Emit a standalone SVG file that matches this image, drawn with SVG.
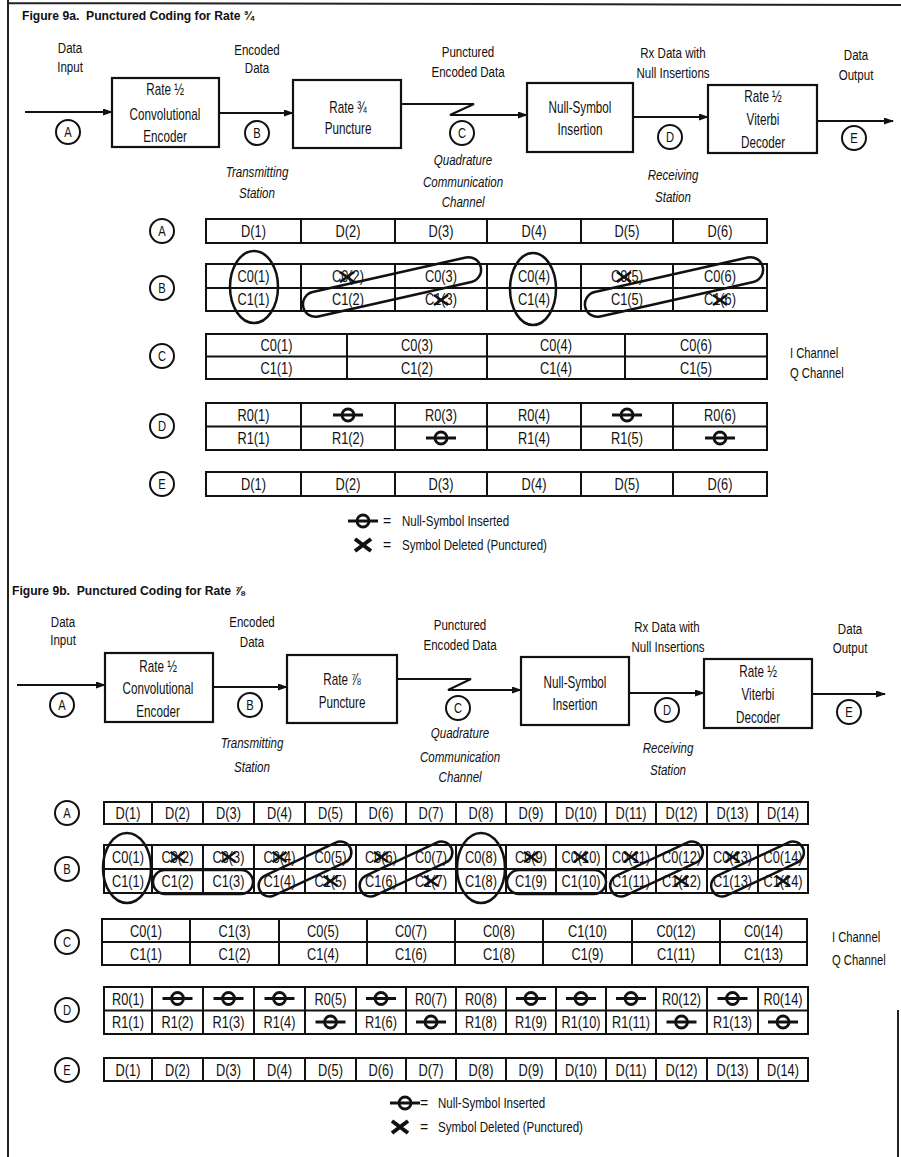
<svg xmlns="http://www.w3.org/2000/svg" xmlns:xlink="http://www.w3.org/1999/xlink" width="901" height="1157" viewBox="0 0 901 1157">
<style>
text{font-family:"Liberation Sans",Arial,Helvetica,sans-serif;fill:#111;transform-box:fill-box;}
.lb{font-size:15px;text-anchor:middle;transform-origin:center;transform:scaleX(.77);}
.it{font-size:15px;font-style:italic;text-anchor:middle;transform-origin:center;transform:scaleX(.77);}
.bx{font-size:16px;text-anchor:middle;transform-origin:center;transform:scaleX(.73);}
.cl{font-size:16px;text-anchor:middle;transform-origin:center;transform:scaleX(.8);}
.ci{font-size:14px;text-anchor:middle;transform-origin:center;transform:scaleX(.8);}
.ti{font-size:13.5px;font-weight:bold;white-space:pre;transform-origin:left center;transform:scaleX(.9);}
.lg{font-size:15px;transform-origin:left center;transform:scaleX(.77);}
.eq{font-size:14px;text-anchor:middle;}
.ch{font-size:15px;transform-origin:left center;transform:scaleX(.75);}
.box{fill:#fff;stroke:#111;stroke-width:2.2;}
.tb{fill:none;stroke:#111;stroke-width:2;}
.cir{fill:#fff;stroke:#111;stroke-width:2;}
.ov{fill:none;stroke:#111;stroke-width:2.5;}
.wire{fill:none;stroke:#111;stroke-width:2;}
.frame{fill:none;stroke:#222;stroke-width:2;}
</style>
<defs>
<marker id="ah" markerWidth="10" markerHeight="7" refX="9" refY="3.5" orient="auto" markerUnits="userSpaceOnUse"><path d="M0,0 L10,3.5 L0,7 z" fill="#111"/></marker>
<g id="nul"><circle r="6" fill="#fff" stroke="#111" stroke-width="2.8"/><line x1="-15" x2="15" y1="0" y2="0" stroke="#111" stroke-width="3"/></g>
<path id="xm" d="M-7,-5 L7,5 M-7,5 L7,-5" fill="none" stroke="#111" stroke-width="2.6"/>
<path id="xl" d="M-8,-6 L8,6 M-8,6 L8,-6" fill="none" stroke="#111" stroke-width="4"/>
</defs>
<rect width="901" height="1157" fill="#fff"/>
<g id="frame">
<path class="frame" d="M8,0 V1157 M8,3 L901,5 M898,1010 V1157"/>
</g>

<!-- ================= FIGURE 9a ================= -->
<g id="a-title"><text class="ti" x="22" y="20">Figure 9a.  Punctured Coding for Rate ¾</text></g>

<g id="a-connectors">
<path class="wire" d="M25,112 H112" marker-end="url(#ah)"/>
<path class="wire" d="M219,113 H293" marker-end="url(#ah)"/>
<path class="wire" d="M401,104 H474 L450,115 H527" marker-end="url(#ah)"/>
<path class="wire" d="M633,117 H708" marker-end="url(#ah)"/>
<path class="wire" d="M817,121 H893" marker-end="url(#ah)"/>
</g>

<g id="a-lbl-input"><text class="lb" x="70" y="53">Data</text><text class="lb" x="70" y="72">Input</text></g>
<g id="a-lbl-encoded"><text class="lb" x="257" y="55">Encoded</text><text class="lb" x="257" y="73">Data</text></g>
<g id="a-lbl-punctured"><text class="lb" x="468" y="57">Punctured</text><text class="lb" x="468" y="77">Encoded Data</text></g>
<g id="a-lbl-rx"><text class="lb" x="673" y="58">Rx Data with</text><text class="lb" x="673" y="78">Null Insertions</text></g>
<g id="a-lbl-output"><text class="lb" x="856" y="60">Data</text><text class="lb" x="856" y="80">Output</text></g>

<g id="a-encoder"><rect class="box" x="112" y="78" width="107" height="69"/><text class="bx" x="165" y="95">Rate ½</text><text class="bx" x="165" y="120">Convolutional</text><text class="bx" x="165" y="142">Encoder</text></g>
<g id="a-puncture"><rect class="box" x="293" y="80" width="108" height="68"/><text class="bx" x="348" y="113">Rate ¾</text><text class="bx" x="348" y="134">Puncture</text></g>
<g id="a-nullins"><rect class="box" x="527" y="83" width="106" height="69"/><text class="bx" x="580" y="113">Null-Symbol</text><text class="bx" x="580" y="135">Insertion</text></g>
<g id="a-viterbi"><rect class="box" x="708" y="85" width="109" height="68"/><text class="bx" x="763" y="102">Rate ½</text><text class="bx" x="763" y="125">Viterbi</text><text class="bx" x="763" y="148">Decoder</text></g>

<g id="a-pt-A"><circle class="cir" cx="68" cy="132" r="12"/><text class="ci" x="68" y="137">A</text></g>
<g id="a-pt-B"><circle class="cir" cx="257" cy="133" r="12"/><text class="ci" x="257" y="138">B</text></g>
<g id="a-pt-C"><circle class="cir" cx="462" cy="133" r="12"/><text class="ci" x="462" y="138">C</text></g>
<g id="a-pt-D"><circle class="cir" cx="670" cy="137" r="12"/><text class="ci" x="670" y="142">D</text></g>
<g id="a-pt-E"><circle class="cir" cx="854" cy="138" r="12"/><text class="ci" x="854" y="143">E</text></g>

<g id="a-lbl-tx"><text class="it" x="257" y="177">Transmitting</text><text class="it" x="257" y="198">Station</text></g>
<g id="a-lbl-ch"><text class="it" x="463" y="165">Quadrature</text><text class="it" x="463" y="187">Communication</text><text class="it" x="463" y="207">Channel</text></g>
<g id="a-lbl-rxst"><text class="it" x="673" y="180">Receiving</text><text class="it" x="673" y="202">Station</text></g>

<!-- row labels 9a -->
<g id="a-row-A"><circle class="cir" cx="162" cy="231" r="12"/><text class="ci" x="162" y="236">A</text></g>
<g id="a-row-B"><circle class="cir" cx="162" cy="288" r="12"/><text class="ci" x="162" y="293">B</text></g>
<g id="a-row-C"><circle class="cir" cx="162" cy="356" r="12"/><text class="ci" x="162" y="361">C</text></g>
<g id="a-row-D"><circle class="cir" cx="162" cy="426" r="12"/><text class="ci" x="162" y="431">D</text></g>
<g id="a-row-E"><circle class="cir" cx="162" cy="484" r="12"/><text class="ci" x="162" y="489">E</text></g>

<g id="a-tbl-A">
<rect class="tb" x="206" y="219" width="561" height="24"/>
<path class="tb" d="M301,219v24M395,219v24M487,219v24M581,219v24M673,219v24"/>
<text class="cl" x="253.5" y="237">D(1)</text><text class="cl" x="348" y="237">D(2)</text><text class="cl" x="441" y="237">D(3)</text><text class="cl" x="534" y="237">D(4)</text><text class="cl" x="627" y="237">D(5)</text><text class="cl" x="720" y="237">D(6)</text>
</g>

<g id="a-tbl-B">
<rect class="tb" x="206" y="264" width="561" height="47"/>
<path class="tb" d="M206,288h561M301,264v47M395,264v47M487,264v47M581,264v47M673,264v47"/>
<text class="cl" x="253.5" y="282">C0(1)</text><text class="cl" x="348" y="282">C0(2)</text><text class="cl" x="441" y="282">C0(3)</text><text class="cl" x="534" y="282">C0(4)</text><text class="cl" x="627" y="282">C0(5)</text><text class="cl" x="720" y="282">C0(6)</text>
<text class="cl" x="253.5" y="305">C1(1)</text><text class="cl" x="348" y="305">C1(2)</text><text class="cl" x="441" y="305">C1(3)</text><text class="cl" x="534" y="305">C1(4)</text><text class="cl" x="627" y="305">C1(5)</text><text class="cl" x="720" y="305">C1(6)</text>
<use xlink:href="#xm" href="#xm" x="347" y="277"/>
<use xlink:href="#xm" href="#xm" x="441" y="300"/>
<use xlink:href="#xm" href="#xm" x="624" y="277"/>
<use xlink:href="#xm" href="#xm" x="720" y="300"/>
<ellipse class="ov" cx="254" cy="287" rx="24" ry="36"/>
<ellipse class="ov" cx="533" cy="289" rx="23" ry="36"/>
<rect class="ov" x="-91" y="-12.5" width="182" height="25" rx="12.5" transform="translate(392,287) rotate(-12.7)"/>
<rect class="ov" x="-91" y="-12.5" width="182" height="25" rx="12.5" transform="translate(674,287) rotate(-12.7)"/>
</g>

<g id="a-tbl-C">
<rect class="tb" x="206" y="334" width="561" height="45"/>
<path class="tb" d="M206,356.5h561M347,334v45M487,334v45M625,334v45"/>
<text class="cl" x="276.5" y="351">C0(1)</text><text class="cl" x="417" y="351">C0(3)</text><text class="cl" x="556" y="351">C0(4)</text><text class="cl" x="696" y="351">C0(6)</text>
<text class="cl" x="276.5" y="374">C1(1)</text><text class="cl" x="417" y="374">C1(2)</text><text class="cl" x="556" y="374">C1(4)</text><text class="cl" x="696" y="374">C1(5)</text>
</g>
<g id="a-channels"><text class="ch" x="790" y="358">I Channel</text><text class="ch" x="790" y="378">Q Channel</text></g>

<g id="a-tbl-D">
<rect class="tb" x="206" y="403" width="561" height="47"/>
<path class="tb" d="M206,426.5h561M301,403v47M395,403v47M487,403v47M581,403v47M673,403v47"/>
<text class="cl" x="253.5" y="421">R0(1)</text><use xlink:href="#nul" href="#nul" x="348" y="415"/><text class="cl" x="441" y="421">R0(3)</text><text class="cl" x="534" y="421">R0(4)</text><use xlink:href="#nul" href="#nul" x="627" y="415"/><text class="cl" x="720" y="421">R0(6)</text>
<text class="cl" x="253.5" y="444">R1(1)</text><text class="cl" x="348" y="444">R1(2)</text><use xlink:href="#nul" href="#nul" x="441" y="438"/><text class="cl" x="534" y="444">R1(4)</text><text class="cl" x="627" y="444">R1(5)</text><use xlink:href="#nul" href="#nul" x="720" y="438"/>
</g>

<g id="a-tbl-E">
<rect class="tb" x="206" y="472" width="561" height="24"/>
<path class="tb" d="M301,472v24M395,472v24M487,472v24M581,472v24M673,472v24"/>
<text class="cl" x="253.5" y="490">D(1)</text><text class="cl" x="348" y="490">D(2)</text><text class="cl" x="441" y="490">D(3)</text><text class="cl" x="534" y="490">D(4)</text><text class="cl" x="627" y="490">D(5)</text><text class="cl" x="720" y="490">D(6)</text>
</g>

<g id="a-legend">
<use xlink:href="#nul" href="#nul" x="363" y="521"/><text class="eq" x="387" y="526">=</text><text class="lg" x="402" y="526">Null-Symbol Inserted</text>
<use xlink:href="#xl" href="#xl" x="363" y="545"/><text class="eq" x="387" y="550">=</text><text class="lg" x="402" y="550">Symbol Deleted (Punctured)</text>
</g>

<!-- ================= FIGURE 9b ================= -->
<g id="b-title"><text class="ti" x="12" y="595">Figure 9b.  Punctured Coding for Rate ⅞</text></g>

<g id="b-connectors">
<path class="wire" d="M17,685 H105" marker-end="url(#ah)"/>
<path class="wire" d="M213,687 H287" marker-end="url(#ah)"/>
<path class="wire" d="M397,679 H471 L448,690 H521" marker-end="url(#ah)"/>
<path class="wire" d="M629,693 H704" marker-end="url(#ah)"/>
<path class="wire" d="M812,694 H885" marker-end="url(#ah)"/>
</g>

<g id="b-lbl-input"><text class="lb" x="63" y="627">Data</text><text class="lb" x="63" y="645">Input</text></g>
<g id="b-lbl-encoded"><text class="lb" x="252" y="627">Encoded</text><text class="lb" x="252" y="647">Data</text></g>
<g id="b-lbl-punctured"><text class="lb" x="460" y="630">Punctured</text><text class="lb" x="460" y="650">Encoded Data</text></g>
<g id="b-lbl-rx"><text class="lb" x="667" y="632">Rx Data with</text><text class="lb" x="668" y="652">Null Insertions</text></g>
<g id="b-lbl-output"><text class="lb" x="850" y="634">Data</text><text class="lb" x="850" y="653">Output</text></g>

<g id="b-encoder"><rect class="box" x="105" y="653" width="108" height="69"/><text class="bx" x="158" y="672">Rate ½</text><text class="bx" x="158" y="694">Convolutional</text><text class="bx" x="158" y="717">Encoder</text></g>
<g id="b-puncture"><rect class="box" x="287" y="655" width="110" height="68"/><text class="bx" x="342" y="685">Rate ⅞</text><text class="bx" x="342" y="708">Puncture</text></g>
<g id="b-nullins"><rect class="box" x="521" y="657" width="108" height="68"/><text class="bx" x="575" y="688">Null-Symbol</text><text class="bx" x="575" y="710">Insertion</text></g>
<g id="b-viterbi"><rect class="box" x="704" y="659" width="108" height="69"/><text class="bx" x="758" y="677">Rate ½</text><text class="bx" x="758" y="700">Viterbi</text><text class="bx" x="758" y="723">Decoder</text></g>

<g id="b-pt-A"><circle class="cir" cx="62" cy="705" r="12"/><text class="ci" x="62" y="710">A</text></g>
<g id="b-pt-B"><circle class="cir" cx="250" cy="705" r="12"/><text class="ci" x="250" y="710">B</text></g>
<g id="b-pt-C"><circle class="cir" cx="458" cy="708" r="12"/><text class="ci" x="458" y="713">C</text></g>
<g id="b-pt-D"><circle class="cir" cx="667" cy="710" r="12"/><text class="ci" x="667" y="715">D</text></g>
<g id="b-pt-E"><circle class="cir" cx="849" cy="712" r="12"/><text class="ci" x="849" y="717">E</text></g>

<g id="b-lbl-tx"><text class="it" x="252" y="748">Transmitting</text><text class="it" x="252" y="772">Station</text></g>
<g id="b-lbl-ch"><text class="it" x="460" y="738">Quadrature</text><text class="it" x="460" y="762">Communication</text><text class="it" x="460" y="782">Channel</text></g>
<g id="b-lbl-rxst"><text class="it" x="668" y="753">Receiving</text><text class="it" x="668" y="775">Station</text></g>

<!-- row labels 9b -->
<g id="b-row-A"><circle class="cir" cx="67" cy="813" r="12"/><text class="ci" x="67" y="818">A</text></g>
<g id="b-row-B"><circle class="cir" cx="67" cy="869" r="12"/><text class="ci" x="67" y="874">B</text></g>
<g id="b-row-C"><circle class="cir" cx="67" cy="942" r="12"/><text class="ci" x="67" y="947">C</text></g>
<g id="b-row-D"><circle class="cir" cx="67" cy="1010" r="12"/><text class="ci" x="67" y="1015">D</text></g>
<g id="b-row-E"><circle class="cir" cx="67" cy="1070" r="12"/><text class="ci" x="67" y="1075">E</text></g>

<g id="b-tbl-A">
<rect class="tb" x="104" y="802" width="704" height="22"/>
<path class="tb" d="M152,802v22M203,802v22M254,802v22M305,802v22M356,802v22M406,802v22M456,802v22M506,802v22M556,802v22M606,802v22M656,802v22M707,802v22M758,802v22"/>
<text class="cl" x="128" y="819">D(1)</text><text class="cl" x="177.5" y="819">D(2)</text><text class="cl" x="228.5" y="819">D(3)</text><text class="cl" x="279.5" y="819">D(4)</text><text class="cl" x="330.5" y="819">D(5)</text><text class="cl" x="381" y="819">D(6)</text><text class="cl" x="431" y="819">D(7)</text><text class="cl" x="481" y="819">D(8)</text><text class="cl" x="531" y="819">D(9)</text><text class="cl" x="581" y="819">D(10)</text><text class="cl" x="631" y="819">D(11)</text><text class="cl" x="681.5" y="819">D(12)</text><text class="cl" x="732.5" y="819">D(13)</text><text class="cl" x="783" y="819">D(14)</text>
</g>

<g id="b-tbl-B">
<rect class="tb" x="104" y="845" width="704" height="48"/>
<path class="tb" d="M104,869h704M152,845v48M203,845v48M254,845v48M305,845v48M356,845v48M406,845v48M456,845v48M506,845v48M556,845v48M606,845v48M656,845v48M707,845v48M758,845v48"/>
<text class="cl" x="128" y="863">C0(1)</text><text class="cl" x="177.5" y="863">C0(2)</text><text class="cl" x="228.5" y="863">C0(3)</text><text class="cl" x="279.5" y="863">C0(4)</text><text class="cl" x="330.5" y="863">C0(5)</text><text class="cl" x="381" y="863">C0(6)</text><text class="cl" x="431" y="863">C0(7)</text><text class="cl" x="481" y="863">C0(8)</text><text class="cl" x="531" y="863">C0(9)</text><text class="cl" x="581" y="863">C0(10)</text><text class="cl" x="631" y="863">C0(11)</text><text class="cl" x="681.5" y="863">C0(12)</text><text class="cl" x="732.5" y="863">C0(13)</text><text class="cl" x="783" y="863">C0(14)</text>
<text class="cl" x="128" y="887">C1(1)</text><text class="cl" x="177.5" y="887">C1(2)</text><text class="cl" x="228.5" y="887">C1(3)</text><text class="cl" x="279.5" y="887">C1(4)</text><text class="cl" x="330.5" y="887">C1(5)</text><text class="cl" x="381" y="887">C1(6)</text><text class="cl" x="431" y="887">C1(7)</text><text class="cl" x="481" y="887">C1(8)</text><text class="cl" x="531" y="887">C1(9)</text><text class="cl" x="581" y="887">C1(10)</text><text class="cl" x="631" y="887">C1(11)</text><text class="cl" x="681.5" y="887">C1(12)</text><text class="cl" x="732.5" y="887">C1(13)</text><text class="cl" x="783" y="887">C1(14)</text>
<use xlink:href="#xm" href="#xm" x="177.5" y="857"/><use xlink:href="#xm" href="#xm" x="228.5" y="857"/><use xlink:href="#xm" href="#xm" x="279.5" y="857"/><use xlink:href="#xm" href="#xm" x="381" y="857"/>
<use xlink:href="#xm" href="#xm" x="531" y="857"/><use xlink:href="#xm" href="#xm" x="581" y="857"/><use xlink:href="#xm" href="#xm" x="631" y="857"/><use xlink:href="#xm" href="#xm" x="732.5" y="857"/>
<use xlink:href="#xm" href="#xm" x="330.5" y="881"/><use xlink:href="#xm" href="#xm" x="431" y="881"/><use xlink:href="#xm" href="#xm" x="681.5" y="881"/><use xlink:href="#xm" href="#xm" x="783" y="881"/>
<ellipse class="ov" cx="127" cy="868" rx="24" ry="35"/>
<ellipse class="ov" cx="481" cy="868" rx="24" ry="35"/>
<rect class="ov" x="153" y="870" width="100" height="24" rx="12"/>
<rect class="ov" x="507" y="870" width="99" height="24" rx="12"/>
<rect class="ov" x="-50" y="-11" width="100" height="22" rx="11" transform="translate(305,869) rotate(-25)"/>
<rect class="ov" x="-50" y="-11" width="100" height="22" rx="11" transform="translate(406,869) rotate(-25)"/>
<rect class="ov" x="-50" y="-11" width="100" height="22" rx="11" transform="translate(656.5,869) rotate(-25)"/>
<rect class="ov" x="-50" y="-11" width="100" height="22" rx="11" transform="translate(757.5,869) rotate(-25)"/>
</g>

<g id="b-tbl-C">
<rect class="tb" x="102" y="919" width="705" height="46"/>
<path class="tb" d="M102,942h705M190,919v46M279,919v46M367,919v46M455,919v46M543,919v46M632,919v46M720,919v46"/>
<text class="cl" x="146" y="937">C0(1)</text><text class="cl" x="234.5" y="937">C1(3)</text><text class="cl" x="323" y="937">C0(5)</text><text class="cl" x="411" y="937">C0(7)</text><text class="cl" x="499" y="937">C0(8)</text><text class="cl" x="587.5" y="937">C1(10)</text><text class="cl" x="676" y="937">C0(12)</text><text class="cl" x="763.5" y="937">C0(14)</text>
<text class="cl" x="146" y="960">C1(1)</text><text class="cl" x="234.5" y="960">C1(2)</text><text class="cl" x="323" y="960">C1(4)</text><text class="cl" x="411" y="960">C1(6)</text><text class="cl" x="499" y="960">C1(8)</text><text class="cl" x="587.5" y="960">C1(9)</text><text class="cl" x="676" y="960">C1(11)</text><text class="cl" x="763.5" y="960">C1(13)</text>
</g>
<g id="b-channels"><text class="ch" x="832" y="942">I Channel</text><text class="ch" x="832" y="965">Q Channel</text></g>

<g id="b-tbl-D">
<rect class="tb" x="104" y="987" width="704" height="47"/>
<path class="tb" d="M104,1010.5h704M152,987v47M203,987v47M254,987v47M305,987v47M356,987v47M406,987v47M456,987v47M506,987v47M556,987v47M606,987v47M656,987v47M707,987v47M758,987v47"/>
<text class="cl" x="128" y="1005">R0(1)</text><use xlink:href="#nul" href="#nul" x="177.5" y="998.5"/><use xlink:href="#nul" href="#nul" x="228.5" y="998.5"/><use xlink:href="#nul" href="#nul" x="279.5" y="998.5"/><text class="cl" x="330.5" y="1005">R0(5)</text><use xlink:href="#nul" href="#nul" x="381" y="998.5"/><text class="cl" x="431" y="1005">R0(7)</text>
<text class="cl" x="481" y="1005">R0(8)</text><use xlink:href="#nul" href="#nul" x="531" y="998.5"/><use xlink:href="#nul" href="#nul" x="581" y="998.5"/><use xlink:href="#nul" href="#nul" x="631" y="998.5"/><text class="cl" x="681.5" y="1005">R0(12)</text><use xlink:href="#nul" href="#nul" x="732.5" y="998.5"/><text class="cl" x="783" y="1005">R0(14)</text>
<text class="cl" x="128" y="1028">R1(1)</text><text class="cl" x="177.5" y="1028">R1(2)</text><text class="cl" x="228.5" y="1028">R1(3)</text><text class="cl" x="279.5" y="1028">R1(4)</text><use xlink:href="#nul" href="#nul" x="330.5" y="1022"/><text class="cl" x="381" y="1028">R1(6)</text><use xlink:href="#nul" href="#nul" x="431" y="1022"/>
<text class="cl" x="481" y="1028">R1(8)</text><text class="cl" x="531" y="1028">R1(9)</text><text class="cl" x="581" y="1028">R1(10)</text><text class="cl" x="631" y="1028">R1(11)</text><use xlink:href="#nul" href="#nul" x="681.5" y="1022"/><text class="cl" x="732.5" y="1028">R1(13)</text><use xlink:href="#nul" href="#nul" x="783" y="1022"/>
</g>

<g id="b-tbl-E">
<rect class="tb" x="104" y="1058" width="704" height="23"/>
<path class="tb" d="M152,1058v23M203,1058v23M254,1058v23M305,1058v23M356,1058v23M406,1058v23M456,1058v23M506,1058v23M556,1058v23M606,1058v23M656,1058v23M707,1058v23M758,1058v23"/>
<text class="cl" x="128" y="1076">D(1)</text><text class="cl" x="177.5" y="1076">D(2)</text><text class="cl" x="228.5" y="1076">D(3)</text><text class="cl" x="279.5" y="1076">D(4)</text><text class="cl" x="330.5" y="1076">D(5)</text><text class="cl" x="381" y="1076">D(6)</text><text class="cl" x="431" y="1076">D(7)</text><text class="cl" x="481" y="1076">D(8)</text><text class="cl" x="531" y="1076">D(9)</text><text class="cl" x="581" y="1076">D(10)</text><text class="cl" x="631" y="1076">D(11)</text><text class="cl" x="681.5" y="1076">D(12)</text><text class="cl" x="732.5" y="1076">D(13)</text><text class="cl" x="783" y="1076">D(14)</text>
</g>

<g id="b-legend">
<use xlink:href="#nul" href="#nul" x="405" y="1103"/><text class="eq" x="424" y="1108">=</text><text class="lg" x="438" y="1108">Null-Symbol Inserted</text>
<use xlink:href="#xl" href="#xl" x="400" y="1127"/><text class="eq" x="424" y="1132">=</text><text class="lg" x="438" y="1132">Symbol Deleted (Punctured)</text>
</g>
</svg>
